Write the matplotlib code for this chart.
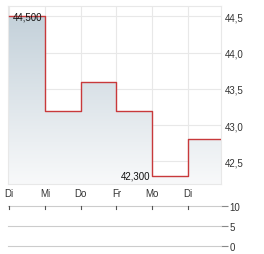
import numpy as np
import matplotlib.pyplot as plt
from matplotlib.patches import Polygon

days = ['Di', 'Mi', 'Do', 'Fr', 'Mo', 'Di']
prices = [44.5, 43.2, 43.6, 43.2, 42.3, 42.8]
y_ticks = [42.5, 43.0, 43.5, 44.0, 44.5]
y_labels = ['42,5', '43,0', '43,5', '44,0', '44,5']
vol_ticks = [0, 5, 10]
high_label = '44,500'
low_label = '42,300'

plt.rcParams['font.family'] = ['Liberation Sans', 'DejaVu Sans']

fig = plt.figure(figsize=(2.64, 2.55), dpi=100)
W, H = 264, 255
x0, x1 = 8 / W, 221 / W
ax = fig.add_axes([x0, 1 - 185 / H, x1 - x0, (185 - 6.7) / H])

xmax = 5.92
xs = np.arange(len(prices))
step_x = np.append(np.repeat(xs, 2)[1:], xmax)
step_y = np.repeat(prices, 2)
ymin, ymax = 42.186, 44.646

# gradient fill under the step line
poly_pts = np.column_stack([np.concatenate([[0], step_x, [xmax]]),
                            np.concatenate([[ymin], step_y, [ymin]])])
poly = Polygon(poly_pts, closed=True, facecolor='none', edgecolor='none')
ax.add_patch(poly)
top_c = np.array([196, 209, 218]) / 255
bot_c = np.array([248, 249, 250]) / 255
t = np.linspace(0, 1, 256)[:, None]
grad = (top_c * (1 - t) + bot_c * t).reshape(256, 1, 3)
im = ax.imshow(grad, extent=[0, xmax, ymin, 44.5], aspect='auto', origin='upper', zorder=1)
im.set_clip_path(poly)

ax.plot(step_x, step_y, color='#c8393b', lw=1.0, zorder=3)

ax.set_xlim(-0.03, xmax)
ax.set_ylim(ymin, ymax)
ax.set_yticks(y_ticks)
ax.set_yticklabels(y_labels)
ax.set_xticks(xs)
ax.set_xticklabels(days)
ax.yaxis.tick_right()
ax.tick_params(axis='y', length=0, pad=3, labelsize=7, colors='#333333')
ax.tick_params(axis='x', length=0, pad=3, labelsize=7, colors='#333333')
ax.grid(True, color='#e8e8e8', lw=0.8, zorder=0)
ax.set_axisbelow(True)
for s in ax.spines.values():
    s.set_color('#e8e8e8')
    s.set_linewidth(0.8)

ax.text(0.1, prices[0], high_label, fontsize=7, va='center', ha='left', color='#111111', zorder=4)
ax.text(3.95, prices[4], low_label, fontsize=7, va='center', ha='right', color='#111111', zorder=4)

# volume panel
axv = fig.add_axes([x0, 1 - 247.3 / H, x1 - x0, (247.3 - 206.7) / H])
axv.set_xlim(-0.03, xmax)
axv.set_ylim(0, 10)
for v in vol_ticks:
    axv.axhline(v, color='#cccccc', lw=0.8, clip_on=False)
for s in axv.spines.values():
    s.set_visible(False)
axv.set_xticks([])
axv.yaxis.tick_right()
axv.set_yticks(vol_ticks)
axv.set_yticklabels([str(v) for v in vol_ticks])
axv.tick_params(axis='y', length=5, width=0.8, color='#888888', pad=1, labelsize=7, labelcolor='#333333')
for xi in xs:
    axv.plot([xi, xi], [10, 9.3], color='#555555', lw=0.8, clip_on=False)
axv.patch.set_alpha(0)

fig.savefig('out.png', dpi=100)
